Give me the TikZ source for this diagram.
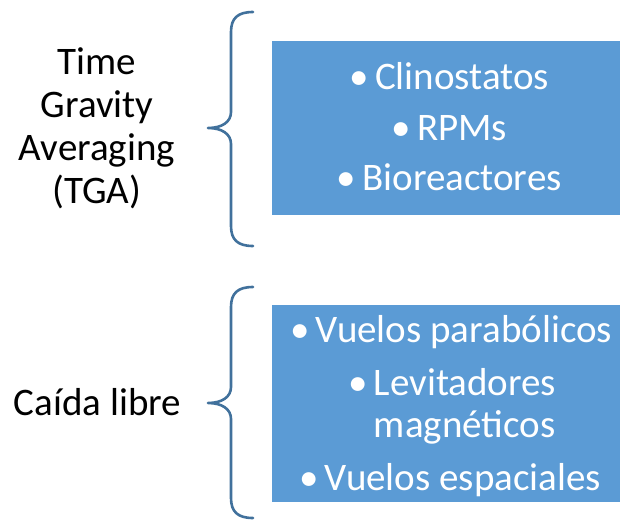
\documentclass[tikz,border=0pt]{standalone}
\usepackage{fontspec}
\setmainfont{Carlito}
\definecolor{boxblue}{HTML}{5B9BD5}
\definecolor{braceblue}{HTML}{41719C}
\newcommand{\blt}{\makebox[32pt][c]{•}}
\tikzset{
  boxfill/.style={fill=boxblue, draw=none},
  brace/.style={draw=braceblue, line width=2.6pt, line cap=round, line join=round},
  bigtext/.style={font=\fontsize{39}{42.8}\selectfont, inner sep=0pt},
  whitetext/.style={bigtext, text=white}
}
\begin{document}
\begin{tikzpicture}[x=1pt,y=-1pt]
\useasboundingbox (0,0) rectangle (622,520);
% boxes
\path[boxfill] (272,41) rectangle (620,215);
\path[boxfill] (272,305) rectangle (620,502);
% braces
\coordinate (b1top) at (253,12);
\coordinate (b1tip) at (208,128);
\coordinate (b1bot) at (253,246);
\draw[brace] (b1top) .. controls (238,12) and (231,18) .. (231,32) -- (231,112)
  .. controls (231,122) and (222,128) .. (b1tip)
  .. controls (222,128) and (231,134) .. (231,144) -- (231,226)
  .. controls (231,240) and (238,246) .. (b1bot);
\coordinate (b2top) at (253,287);
\coordinate (b2tip) at (208,403);
\coordinate (b2bot) at (253,518);
\draw[brace] (b2top) .. controls (238,287) and (231,293) .. (231,307) -- (231,387)
  .. controls (231,397) and (222,403) .. (b2tip)
  .. controls (222,403) and (231,409) .. (231,419) -- (231,498)
  .. controls (231,512) and (238,518) .. (b2bot);
% left labels (base anchor = baseline of last line)
\node[bigtext, align=center, anchor=base] (tga) at (97,203) {Time\\Gravity\\Averaging\\(TGA)};
\node[bigtext, anchor=base] (caida) at (97.5,415) {Caída libre};
% top box items
\node[whitetext, anchor=base] (clino) at (446,89) {\blt Clinostatos};
\node[whitetext, anchor=base] (rpm) at (446,140) {\blt RPMs};
\node[whitetext, anchor=base] (bio) at (446,190) {\blt Bioreactores};
% bottom box items
\node[whitetext, anchor=base] (vpar) at (448,342) {\blt Vuelos parabólicos};
\node[whitetext, anchor=base, align=left, font=\fontsize{39}{42}\selectfont] (levit) at (449,437) {\blt Levitadores\\\hspace*{32pt}magnéticos};
\node[whitetext, anchor=base] (vesp) at (447,490) {\blt Vuelos espaciales};
\end{tikzpicture}
\end{document}
